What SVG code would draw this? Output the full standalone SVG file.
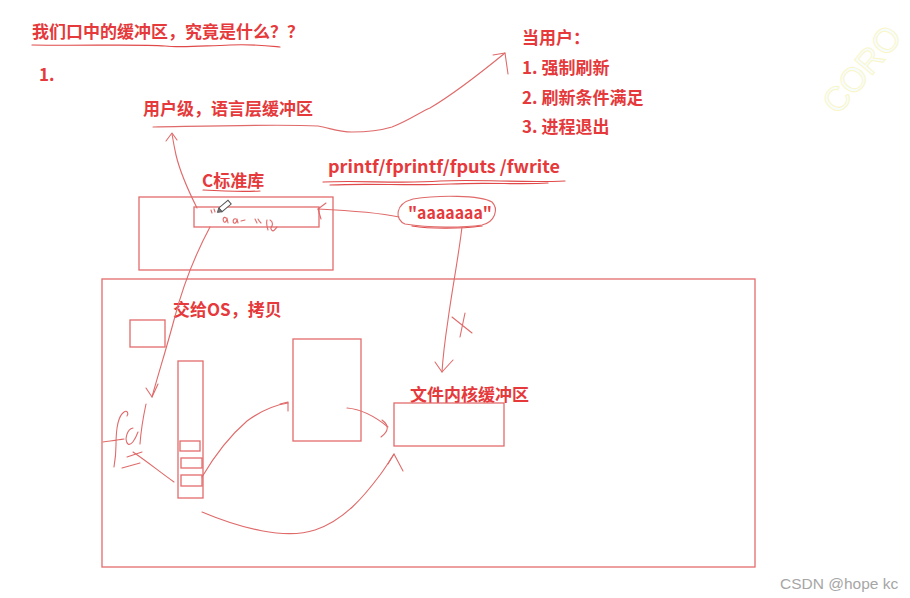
<svg xmlns="http://www.w3.org/2000/svg" width="910" height="598" viewBox="0 0 910 598">
<defs>
<style>
.t{font-family:"Noto Sans CJK SC","Liberation Sans",sans-serif;font-weight:bold;fill:#e5393b;font-size:17px}
.box{fill:none;stroke:#e36a6a;stroke-width:1.3}
.ln{fill:none;stroke:#e06a6a;stroke-width:1.1;stroke-linecap:round;stroke-linejoin:round}
.ul{fill:none;stroke:#e04a4a;stroke-width:1.2;stroke-linecap:round}
</style>
</defs>
<rect width="910" height="598" fill="#ffffff"/>

<g id="title">
<text class="t" x="32" y="37.5">我们口中的缓冲区，究竟是什么？？</text>
<path class="ul" d="M32 45 C80 46,140 44,165 46 C180 48,200 46,230 45 C255 44,270 46,280 47"/>
<text class="t" x="39" y="81" font-size="16">1.</text>
</g>

<g id="user-buffer-label">
<text class="t" x="143" y="114.5">用户级，语言层缓冲区</text>
</g>

<g id="flush-conditions">
<text class="t" x="522" y="43.5">当用户：</text>
<text class="t" x="522" y="73.5">1. 强制刷新</text>
<text class="t" x="522" y="103.5">2. 刷新条件满足</text>
<text class="t" x="522" y="132.5">3. 进程退出</text>
</g>

<g id="functions">
<text class="t" x="328" y="173" font-size="18.5" textLength="232" lengthAdjust="spacingAndGlyphs">printf/fprintf/fputs /fwrite</text>
<path class="ul" d="M323 182 C360 180,400 184,440 181 C480 179,520 183,565 181"/>
<path class="ul" d="M330 185 C370 183,410 186,450 184 C490 182,520 185,548 183"/>
</g>

<g id="string">
<text class="t" x="408" y="219" font-size="18" textLength="84" lengthAdjust="spacingAndGlyphs">"aaaaaaa"</text>
<path class="ln" d="M405 224 C395 220,394 204,413 199 C438 195,480 195,492 202 C499 209,495 222,482 225 C462 228,430 228,405 224"/>
<path class="ul" stroke-width="2" d="M412 226 C430 229,460 229,482 226"/>
</g>

<g id="c-lib">
<text class="t" x="202" y="186.5">C标准库</text>
<path class="ul" d="M203 190 C220 191,240 192,260 191"/>
<rect class="box" x="139" y="197" width="194" height="73"/>
<rect class="box" x="194" y="207" width="125" height="20"/>
<path class="ln" d="M211 210 l1 3 M214 209 l1 3 M226 218 c-2-2,-4 1,-2 4 c2 1,3-2,3-4 l1 5 M236 219 c-2-1,-4 2,-2 4 c2 1,3-2,3-4 l1 4 M241 221 l4-1 M255 219 l2 4 M258 219 c1 2,2 3,3 4 M267 220 c-1 4,0 7,1 10 M270 220 c2 1,3 3,2 6 c-2 2,-1 4,1 5 c2-1,3-3,4-4"/>
<g transform="translate(225,206) rotate(-40)">
<rect x="-6" y="-2.5" width="12" height="5" fill="#ffffff" stroke="#555555" stroke-width="1"/>
<path d="M-6 -2.5 L-10 0 L-6 2.5 Z" fill="#777777" stroke="#555555" stroke-width="0.8"/>
</g>
</g>

<g id="os">
<rect class="box" x="102" y="279" width="653" height="288"/>
<text class="t" x="173" y="315.5">交给OS，拷贝</text>
<rect class="box" x="130" y="320" width="35" height="27"/>
</g>

<g id="fd-array">
<rect class="box" x="178" y="361" width="25" height="137"/>
<rect class="box" x="180" y="441" width="20" height="10"/>
<rect class="box" x="181" y="458" width="21" height="10" stroke="#c84040"/>
<rect class="box" x="181" y="475" width="21" height="11"/>
</g>

<g id="fd-label">
<path class="ln" d="M124 412 C118 416,116 430,116 445 C116 455,115 461,114 467 M124 412 C127 410,129 413,127 416 M103 442 C110 441,118 440,124 439 M133 428 C127 429,124 440,128 444 C131 446,135 440,138 432 M146 404 C143 418,141 430,140 444 M127 457 L142 452 M122 468 L140 463"/>
</g>

<g id="file-struct">
<rect class="box" x="293" y="339" width="68" height="102"/>
</g>

<g id="kernel-buffer">
<text class="t" x="410" y="400.5">文件内核缓冲区</text>
<rect class="box" x="394" y="403" width="110" height="43"/>
</g>

<g id="connectors">
<path class="ln" d="M153 127 C210 126,280 124,318 126 C330 128,338 132,352 132 C370 132,382 130,392 127 C410 120,420 112,430 108 C452 95,472 80,505 53"/>
<path class="ln" d="M493 55 L505 53 L508 74"/>
<path class="ln" d="M197 208 C188 190,180 172,176 155 C174 146,173 140,172 134"/>
<path class="ln" d="M166 141 L172 133 L177 140"/>
<path class="ln" d="M210 227 C195 255,183 285,174 320 C166 350,158 375,152 397"/>
<path class="ln" d="M146 388 L152 397 L158 384"/>
<path class="ln" d="M399 217 C385 214,360 211,318 209"/>
<path class="ln" d="M326 203 L318 209 L321 219"/>
<path class="ln" d="M462 227 C458 260,452 290,448 320 C445 340,443 355,442 372"/>
<path class="ln" d="M435 362 L442 372 L453 360"/>
<path class="ln" d="M452 317 L472 333 M465 313 L460 337"/>
<path class="ln" d="M133 452 C145 460,160 472,174 482"/>
<path class="ln" d="M202 477 C212 460,225 440,247 421 C262 410,275 405,288 403"/>
<path class="ln" d="M280 404 L288 402 L288 411"/>
<path class="ln" d="M347 408 C360 409,372 414,388 427"/>
<path class="ln" d="M382 420 Q393 428,381 437"/>
<path class="ln" d="M202 512 C240 528,285 540,315 530 C345 520,365 495,380 475 C386 467,390 460,394 454"/>
<path class="ln" d="M388 464 L394 454 L403 471"/>
</g>

<g id="watermarks">
<text x="838" y="116" transform="rotate(-50 838 116)" font-family="Liberation Sans, sans-serif" font-size="34" fill="#f7fdff" stroke="#faf6c8" stroke-width="1">CORO</text>
<text x="780" y="589" font-family="Liberation Sans, sans-serif" font-size="15.5" fill="#a6a6a6">CSDN @hope kc</text>
</g>
</svg>
